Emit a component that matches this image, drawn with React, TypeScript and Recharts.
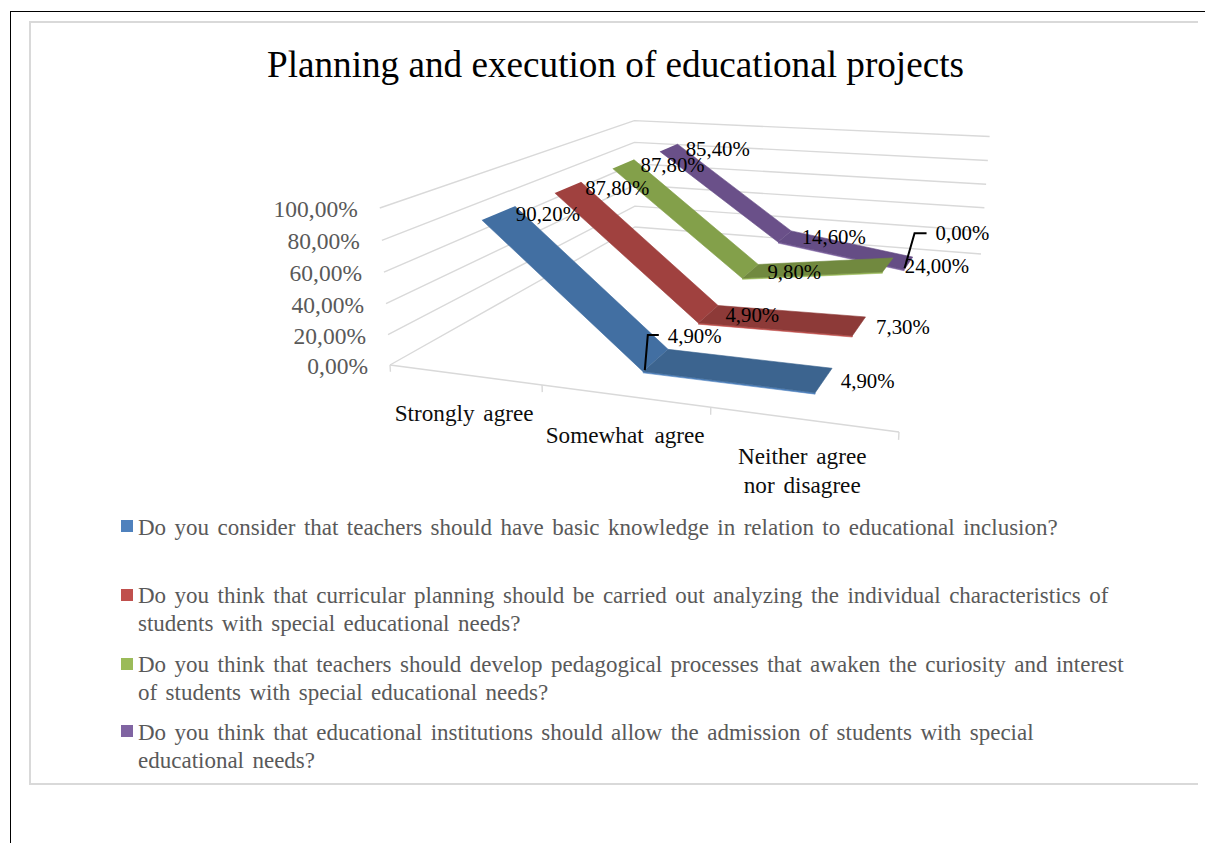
import { ScatterChart, Scatter, XAxis, YAxis, Legend } from 'recharts';

const categories = [['Strongly agree'], ['Somewhat agree'], ['Neither agree', 'nor disagree']];
const inclusionKnowledge = [90.2, 4.9, 4.9];
const curricularPlanning = [87.8, 4.9, 7.3];
const pedagogicalProcesses = [87.8, 9.8, 24.0];
const institutionAdmission = [85.4, 14.6, 0.0];
const seriesValues = [inclusionKnowledge, curricularPlanning, pedagogicalProcesses, institutionAdmission];
const yTicks = [0, 20, 40, 60, 80, 100];
const legendLines = [
  ['Do you consider that teachers should have basic knowledge in relation to educational inclusion?'],
  [
    'Do you think that curricular planning should be carried out analyzing the individual characteristics of',
    'students with special educational needs?',
  ],
  [
    'Do you think that teachers should develop pedagogical processes that awaken the curiosity and interest',
    'of students with special educational needs?',
  ],
  [
    'Do you think that educational institutions should allow the admission of students with special',
    'educational needs?',
  ],
];

const WIDTH = 1205;
const HEIGHT = 843;
const FONT = '"Liberation Serif", serif';

// series colours: legend/edge, sloped ribbon, flat ribbon
const swatch = ['#4f81bd', '#c0504d', '#9bbb59', '#8064a2'];
const slopeFill = ['#426fa2', '#a0413f', '#83a04a', '#6a5089'];
const flatFill = ['#3c648f', '#8d3a38', '#71893f', '#654d85'];

// camera for the 3D box: u along categories, v into depth, h value / 100
function project(u: number, v: number, h: number) {
  const w = 1 - 0.14794 * u + 0.50616 * v - 0.036 * h;
  return {
    x: (390 + 376 * u + 566.4 * v - 23.9 * h) / w,
    y: (365 + 3.09 * u - 23.1 * v - 164.5 * h) / w,
  };
}

const catU = (c: number) => (c + 0.5) / categories.length;
const seriesV = (s: number) => (s + 0.5) / seriesValues.length;
const RIBBON = 0.053;
const EDGE = 0.009;

const pct = (v: number) => v.toFixed(2).replace('.', ',') + '%';

const noDot = () => null;

function polyScatter(key: string, data: { x: number; y: number }[], fill: string) {
  return (
    <Scatter
      key={key}
      data={data}
      shape={noDot}
      line={{ fill, stroke: fill, strokeWidth: 0.6 }}
      lineType="joint"
      isAnimationActive={false}
    />
  );
}

function lineScatter(key: string, data: { x: number; y: number }[], stroke: string, strokeWidth: number) {
  return (
    <Scatter
      key={key}
      data={data}
      shape={noDot}
      line={{ fill: 'none', stroke, strokeWidth }}
      lineType="joint"
      isAnimationActive={false}
    />
  );
}

function textScatter(
  key: string,
  x: number,
  y: number,
  text: string,
  style: { size: number; fill: string; anchor: 'start' | 'middle' | 'end'; spacing?: number },
) {
  return (
    <Scatter
      key={key}
      data={[{ x, y }]}
      isAnimationActive={false}
      shape={(p: any) => (
        <text
          x={p.cx}
          y={p.cy}
          fontFamily={FONT}
          fontSize={style.size}
          fill={style.fill}
          textAnchor={style.anchor}
          wordSpacing={style.spacing}
        >
          {text}
        </text>
      )}
    />
  );
}

const GRID = '#d9d9d9';

const gridLines = yTicks.map((t) =>
  lineScatter(`grid${t}`, [project(0, 0, t / 100), project(0, 1, t / 100), project(1, 1, t / 100)], GRID, 1.4),
);

const axisTicks = [0, 1, 2, 3].map((i) => {
  const u = i / categories.length;
  return lineScatter(`tick${i}`, [project(u, 0, 0), project(u, 0, -0.045)], GRID, 1.4);
});

const axisLine = lineScatter('axis', [project(0, 0, 0), project(1, 0, 0)], GRID, 1.4);

const tickLabels = yTicks.map((t) => {
  const p = project(0, 0, t / 100);
  return textScatter(`ylab${t}`, p.x - 22, p.y + 9, pct(t), { size: 23.5, fill: '#595959', anchor: 'end' });
});

const catBaseline = [46, 47, 45];
const catWordGap = [3, 5, 3];

const categoryLabels = categories.flatMap((lines, c) => {
  const p = project(catU(c), 0, 0);
  return lines.map((line, i) =>
    textScatter(`cat${c}${i}`, p.x + (c === 1 ? 1 : 0), p.y + catBaseline[c] + i * 29, line, {
      size: 23.2,
      fill: '#0d0d0d',
      anchor: 'middle',
      spacing: catWordGap[c],
    }),
  );
});

// back series first so the nearer ribbons cover them
const ribbons = [3, 2, 1, 0].flatMap((s) => {
  const vals = seriesValues[s];
  const v0 = seriesV(s) - RIBBON;
  const v1 = seriesV(s) + RIBBON;
  const parts = [];
  for (let c = 0; c < vals.length - 1; c++) {
    const a = catU(c);
    const b = catU(c + 1);
    const ha = vals[c] / 100;
    const hb = vals[c + 1] / 100;
    const flat = Math.abs(ha - hb) < 0.3;
    if (flat) {
      parts.push(
        polyScatter(
          `edge${s}${c}`,
          [project(a, v0, ha), project(b, v0, hb), project(b, v0, hb - EDGE), project(a, v0, ha - EDGE)],
          swatch[s],
        ),
      );
    }
    parts.push(
      polyScatter(
        `rib${s}${c}`,
        [project(a, v0, ha), project(b, v0, hb), project(b, v1, hb), project(a, v1, ha)],
        flat ? flatFill[s] : slopeFill[s],
      ),
    );
  }
  return parts;
});

// labels pushed away from their point get a leader back to the ribbon
const labelShift: Record<string, [number, number]> = { '0-1': [12, -17], '3-2': [27, -23] };
const leaderShape: Record<string, [number, number][]> = {
  '0-1': [[-11, 10], [-8, -25], [3, -25]],
  '3-2': [[-4, 5], [6, -30], [18, -30]],
};

const leaders = Object.keys(leaderShape).map((k) => {
  const [s, c] = k.split('-').map(Number);
  const p = project(catU(c), seriesV(s), seriesValues[s][c] / 100);
  return lineScatter(`lead${k}`, leaderShape[k].map(([dx, dy]) => ({ x: p.x + dx, y: p.y + dy })), '#000000', 2);
});

const dataLabels = seriesValues.flatMap((vals, s) =>
  vals.map((val, c) => {
    const p = project(catU(c), seriesV(s), val / 100);
    const [dx, dy] = labelShift[`${s}-${c}`] ?? [17, 8];
    return textScatter(`dl${s}${c}`, p.x + dx, p.y + dy, pct(val), { size: 20.8, fill: '#000000', anchor: 'start' });
  }),
);

const LEGEND_TOP = 510;
const legendTops = [514, 582, 651, 719];
const swatchTops = [520, 589, 658, 725];

function LegendBox() {
  return (
    <div
      style={{
        position: 'relative',
        width: WIDTH,
        height: 300,
        fontFamily: FONT,
        fontSize: 23,
        wordSpacing: 2.7,
        color: '#595959',
      }}
    >
      {legendLines.map((lines, s) => (
        <div key={s}>
          <div
            style={{
              position: 'absolute',
              left: 121,
              top: swatchTops[s] - LEGEND_TOP,
              width: 12,
              height: 12,
              background: swatch[s],
            }}
          />
          {lines.map((line, i) => (
            <div
              key={i}
              style={{
                position: 'absolute',
                left: 138,
                top: legendTops[s] - LEGEND_TOP + i * 28,
                lineHeight: '28px',
                whiteSpace: 'nowrap',
              }}
            >
              {line}
            </div>
          ))}
        </div>
      ))}
    </div>
  );
}

export default function App() {
  return (
    <div style={{ position: 'absolute', left: 0, top: 0, width: WIDTH, height: HEIGHT, background: '#fff', overflow: 'hidden' }}>
      {/* page frame and chart frame, both open on the right */}
      <div style={{ position: 'absolute', left: 10, top: 11, right: 0, bottom: 0, borderLeft: '1px solid #000', borderTop: '1px solid #000' }} />
      <div
        style={{
          position: 'absolute',
          left: 29,
          top: 21,
          width: 1167,
          height: 760,
          borderLeft: '2px solid #d9d9d9',
          borderTop: '2px solid #d9d9d9',
          borderBottom: '2px solid #d9d9d9',
        }}
      />
      <div style={{ position: 'absolute', left: 0, top: 0 }}>
        <ScatterChart width={WIDTH} height={HEIGHT} margin={{ top: 0, right: 0, bottom: 0, left: 0 }}>
          <XAxis type="number" dataKey="x" domain={[0, WIDTH]} hide allowDataOverflow />
          <YAxis type="number" dataKey="y" domain={[0, HEIGHT]} reversed hide allowDataOverflow />
          <Legend
            layout="horizontal"
            verticalAlign="middle"
            align="center"
            content={LegendBox}
            wrapperStyle={{ left: 0, top: LEGEND_TOP, width: WIDTH, margin: 0 }}
          />
          {gridLines}
          {axisLine}
          {axisTicks}
          {tickLabels}
          {categoryLabels}
          {ribbons}
          {leaders}
          {dataLabels}
          {textScatter('title', 615.5, 77, 'Planning and execution of educational projects', {
            size: 37.2,
            fill: '#000000',
            anchor: 'middle',
          })}
        </ScatterChart>
      </div>
    </div>
  );
}
